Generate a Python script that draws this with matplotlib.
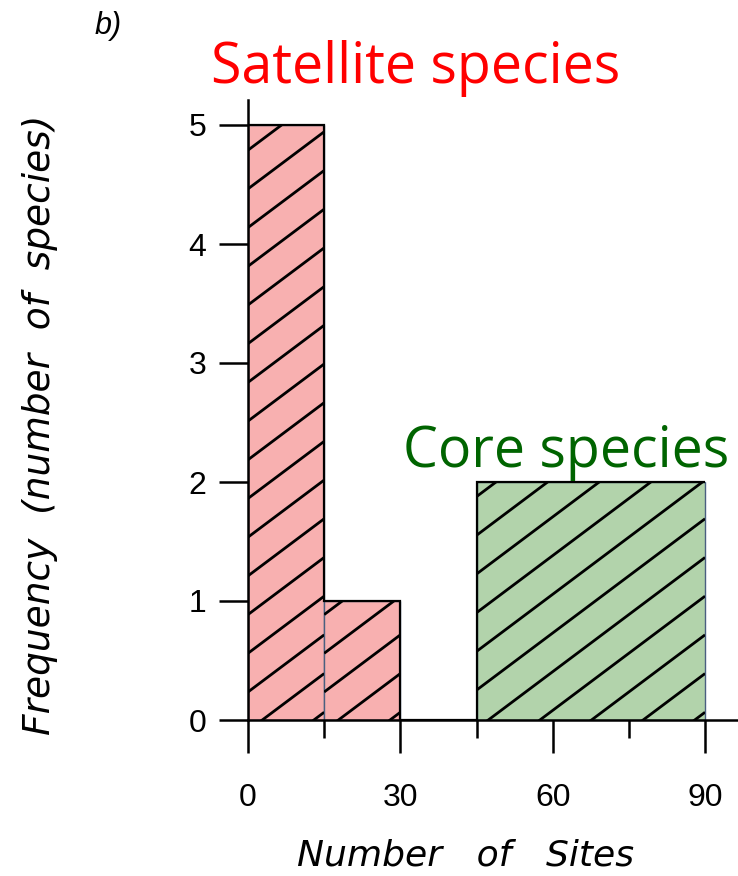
import numpy as np
import matplotlib.pyplot as plt
from matplotlib.collections import LineCollection

# histograma: especies por numero de sitios ocupados
inicio_classe = [0, 15, 45]
largura_classe = [15, 15, 45]
num_especies = [5, 1, 2]
grupo = ["satelite", "satelite", "nucleo"]

ticks_x = [0, 30, 60, 90]
ticks_x_menor = [15, 45, 75]
ticks_y = [0, 1, 2, 3, 4, 5]

cor_fundo = {"satelite": "#f8b0b0", "nucleo": "#b2d3ab"}

fig = plt.figure(figsize=(7.38, 8.76), dpi=100)
ax = fig.add_axes([248 / 738, 156 / 876, 490 / 738, 620 / 876])
ax.set_xlim(0, 490 / 5.078)
ax.set_ylim(0, 620 / 119.0)

barras = ax.bar(inicio_classe, num_especies, width=largura_classe, align="edge",
                color=[cor_fundo[g] for g in grupo], edgecolor="#4a5f80",
                linewidth=1.0, zorder=2)

# contorno preto do histograma (com o vazio entre as classes)
bordas = sorted(set(inicio_classe + [a + b for a, b in zip(inicio_classe, largura_classe)]))
alturas = []
for i in range(len(inicio_classe)):
    alturas.append(num_especies[i])
    if i + 1 < len(inicio_classe) and inicio_classe[i] + largura_classe[i] < inicio_classe[i + 1]:
        alturas.append(0)
ax.stairs(alturas, bordas, baseline=None, color="black", linewidth=1.6, zorder=4)

# hachura diagonal recortada em cada barra
fig.canvas.draw()
px = ax.transData.transform([[0, 0], [1, 1]])
px_x, px_y = px[1, 0] - px[0, 0], px[1, 1] - px[0, 1]
incl = 0.75 * px_x / px_y
passo = 38.7 / px_y
for b in barras:
    x0, y0 = b.get_x(), b.get_y()
    x1, y1 = x0 + b.get_width(), y0 + b.get_height()
    segs = []
    for c in np.arange(y0 - incl * (x1 - x0) + passo * 0.2, y1, passo):
        segs.append([(x0, c), (x1, c + incl * (x1 - x0))])
    lc = LineCollection(segs, colors="black", linewidths=2.0, zorder=3)
    ax.add_collection(lc)
    lc.set_clip_path(b)

for lado in ["top", "right"]:
    ax.spines[lado].set_visible(False)
for lado in ["left", "bottom"]:
    ax.spines[lado].set_linewidth(1.8)
    ax.spines[lado].set_zorder(5)

ax.set_xticks(ticks_x)
ax.set_xticks(ticks_x_menor, minor=True)
ax.set_yticks(ticks_y)
ax.tick_params(axis="x", which="major", direction="out", length=24, width=1.8, pad=21,
               labelsize=23)
ax.tick_params(axis="x", which="minor", direction="out", length=13, width=1.8)
ax.tick_params(axis="y", direction="out", length=21, width=1.8, pad=9, labelsize=23)
for t in ax.get_xticklabels() + ax.get_yticklabels():
    t.set_fontfamily("Liberation Sans")

fig.text(466 / 738, 1 - 866 / 876, "Number   of   Sites", fontsize=26,
         fontstyle="italic", fontfamily="DejaVu Sans", ha="center", va="baseline")
fig.text(40 / 738, 1 - 425 / 876, "Frequency  (number  of  species)",
         fontsize=27, fontstyle="italic", fontfamily="DejaVu Sans",
         rotation=90, ha="center", va="center")

fig.text(95 / 738, 1 - 26 / 876, "b)", fontsize=22, fontstyle="italic",
         fontfamily="Liberation Sans", ha="left", va="center")
fig.text(416 / 738, 1 - 83 / 876, "Satellite species", color="#ff0000",
         fontsize=40, fontfamily="Open Sans", ha="center", va="baseline")
fig.text(566 / 738, 1 - 467 / 876, "Core species", color="#006400",
         fontsize=40, fontfamily="Open Sans", ha="center", va="baseline")

fig.savefig("out.png", dpi=100)
